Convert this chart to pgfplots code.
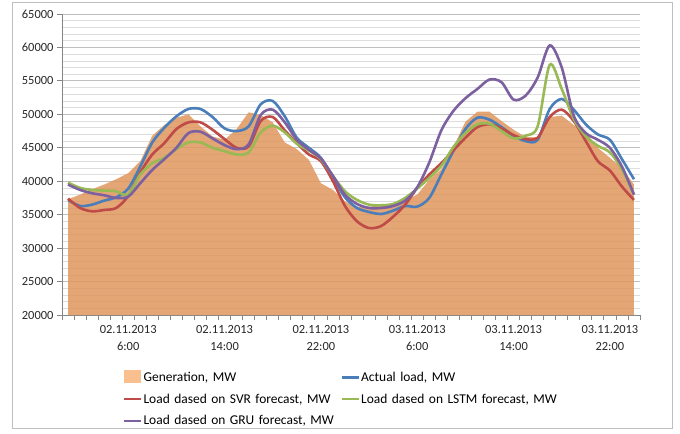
\documentclass[border=0pt]{standalone}
\usepackage{pgfplots}
\pgfplotsset{compat=1.18}
\usepackage{pgfplotstable}
\usepackage{fontspec}
\setmainfont{Carlito}
\definecolor{genfill}{RGB}{223,150,93}
\definecolor{genleg}{RGB}{250,191,143}
\definecolor{cblue}{RGB}{74,126,187}
\definecolor{cred}{RGB}{190,75,72}
\definecolor{cgreen}{RGB}{152,185,84}
\definecolor{cpurple}{RGB}{125,96,160}
\definecolor{majgrid}{RGB}{191,191,191}
\definecolor{mingrid}{RGB}{222,222,222}
\definecolor{axline}{RGB}{134,134,134}
\definecolor{framegray}{RGB}{191,191,191}

\pgfplotstableread{
h gen act svr lstm gru
1 37300 37200 37400 39800 39500
2 38000 36300 36000 39000 38700
3 38800 36500 35500 38700 38200
4 39500 37100 35700 38600 37900
5 40300 37600 36000 38500 37500
6 41200 38900 37800 38000 37700
7 43000 42200 41300 41000 39700
8 46800 45800 44000 42700 41700
9 48400 48000 45700 43500 43300
10 49500 49700 47800 44800 45000
11 50000 50800 48800 45800 47200
12 48200 50800 48800 45800 47400
13 46700 49600 47700 45000 46400
14 46200 47900 46300 44500 45400
15 47800 47500 45000 44000 44800
16 50300 48200 45200 44300 45500
17 49900 51500 49000 47300 49900
18 48800 52000 49600 48300 50700
19 45800 49700 47600 47300 48800
20 44800 46500 45700 45600 46200
21 43200 45000 44000 44600 44700
22 39700 43500 43000 43300 43400
23 38700 40500 40000 40800 40800
24 37000 37600 36300 38500 38000
25 36200 36000 34000 37200 36600
26 36200 35400 33000 36500 36000
27 36400 35100 33300 36400 36000
28 36700 35600 34700 36600 36300
29 37100 36300 36500 37500 37100
30 38000 36200 39000 38900 39100
31 40200 37500 41000 40500 42800
32 41800 41000 42700 42300 47600
33 45100 44500 44600 45100 50500
34 48900 47800 46500 47200 52400
35 50400 49500 48100 48500 53800
36 50400 49200 48500 48600 55200
37 49000 48100 47900 47500 54800
38 47700 46800 46900 46400 52200
39 46600 46000 46300 46800 52800
40 46600 46200 46500 48200 55500
41 49600 50800 49600 57400 60300
42 49800 52300 50700 53800 57000
43 48400 50700 49000 49300 49800
44 47300 48500 46000 46700 47200
45 45000 47000 43000 45300 46200
46 43500 46200 41600 44300 45000
47 42000 43300 39200 41800 42200
48 39500 40300 37200 38000 38000
}\datatable

\begin{document}
\begin{tikzpicture}
\begin{axis}[
  scale only axis, width=578bp, height=301bp,
  at={(0,0)}, anchor=south west,
  xmin=0.5, xmax=48.5, ymin=20000, ymax=65000,
  axis x line*=bottom, axis y line*=left,
  axis line style={draw=axline, line width=0.8bp, -},
  xtick={0.5,1.5,...,48.5}, xticklabels={},
  extra x ticks={6,14,22,30,38,46},
  extra x tick labels={{02.11.2013\\6:00},{02.11.2013\\14:00},{02.11.2013\\22:00},{03.11.2013\\6:00},{03.11.2013\\14:00},{03.11.2013\\22:00}},
  extra x tick style={major tick length=0pt},
  ytick={20000,25000,...,65000},
  minor y tick num=4,
  tick align=outside, major tick length=5bp, minor tick length=0pt,
  tick style={draw=axline, line width=0.8bp},
  ymajorgrids, yminorgrids,
  major grid style={draw=majgrid, line width=0.8bp},
  minor grid style={draw=mingrid, line width=0.6bp},
  tick label style={font=\fontsize{12.5}{17}\selectfont, text=black!85},
  xticklabel style={align=center, yshift=-7bp},
  yticklabel style={/pgf/number format/1000 sep={}},
  /pgf/number format/assume math mode=true,
  scaled y ticks=false,
  legend columns=2,
  legend cell align=left,
  legend style={at={(0.1,-0.175)}, anchor=north west, draw=none, fill=none,
    font=\fontsize{13.5}{15}\selectfont,
    nodes={inner xsep=1bp, text width=196bp},
    row sep=7bp},
]
\addplot[fill=genfill, fill opacity=0.85, draw=none, area legend,
  legend image code/.code={\fill[genleg, fill opacity=1] (0bp,-6bp) rectangle (17bp,7bp);}]
  table[x=h,y=gen]{\datatable} \closedcycle;
\addlegendentry{Generation, MW}
\addplot[cblue, line width=2.6bp, smooth] table[x=h,y=act]{\datatable};
\addlegendentry{Actual load, MW}
\addplot[cred, line width=2.6bp, smooth] table[x=h,y=svr]{\datatable};
\addlegendentry{Load dased on SVR forecast, MW}
\addplot[cgreen, line width=2.6bp, smooth] table[x=h,y=lstm]{\datatable};
\addlegendentry{Load dased on LSTM forecast, MW}
\addplot[cpurple, line width=2.6bp, smooth] table[x=h,y=gru]{\datatable};
\addlegendentry{Load dased on GRU forecast, MW}
\end{axis}
\draw[draw=framegray, line width=0.8bp] (-50bp,-113bp) rectangle (610bp,313bp);
\pgfresetboundingbox
\useasboundingbox (-62bp,-119bp) rectangle (618bp,315bp);
\end{tikzpicture}
\end{document}
